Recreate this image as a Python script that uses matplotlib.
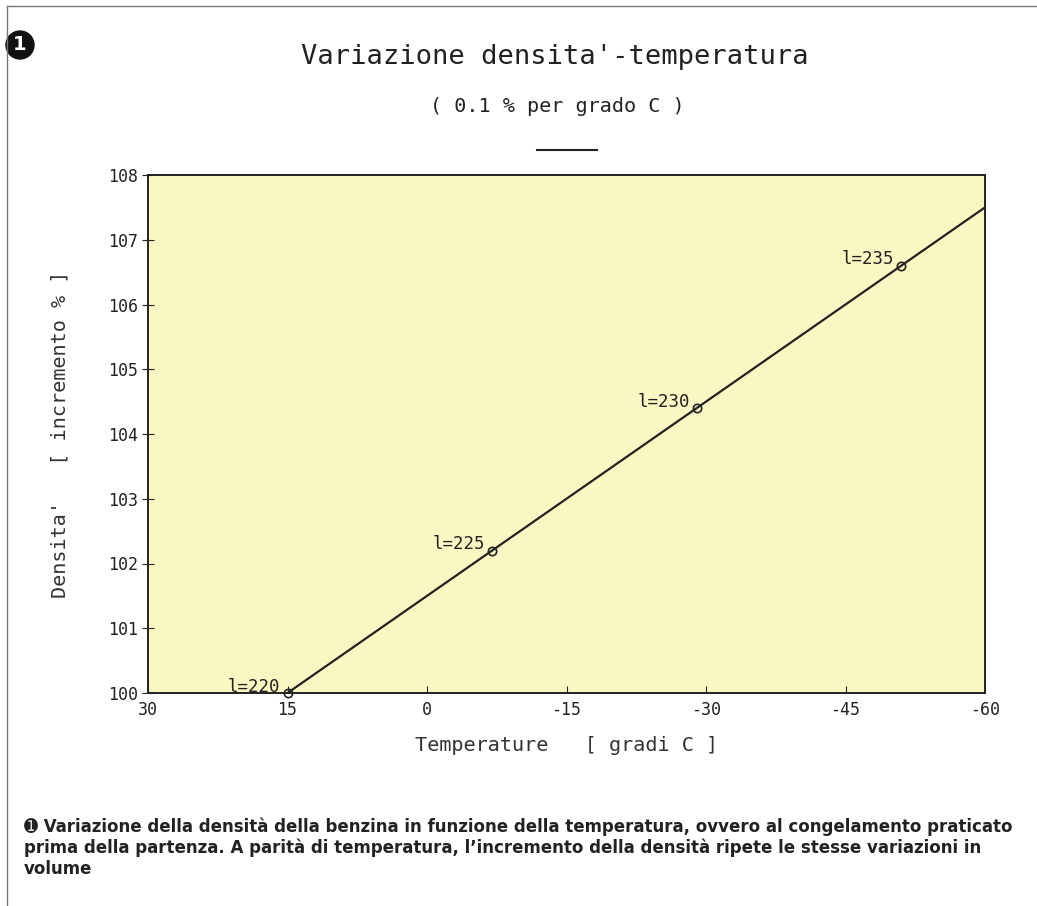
from matplotlib import pyplot as plt
from matplotlib.lines import Line2D
from matplotlib.patches import Ellipse

# dati
temp = [15, -7, -29, -51]
dens = [100.0, 102.2, 104.4, 106.6]
labels = ['l=220', 'l=225', 'l=230', 'l=235']
line_t = [15, -60]
line_d = [100.0, 107.5]
x_ticks = [30, 15, 0, -15, -30, -45, -60]
y_ticks = [100, 101, 102, 103, 104, 105, 106, 107, 108]

mono = 'DejaVu Sans Mono'
ink = '#222222'
caption = ('\u278a Variazione della densità della benzina in funzione della temperatura, ovvero al congelamento praticato\n'
           'prima della partenza. A parità di temperatura, l\u2019incremento della densità ripete le stesse variazioni in\n'
           'volume')

fig = plt.figure(figsize=(10.37, 9.06), dpi=100)
ax = fig.add_axes([148 / 1037, 1 - 693 / 906, (985 - 148) / 1037, (693 - 175) / 906])
ax.set_facecolor('#fbf7c2')

ax.plot(line_t, line_d, color=ink, lw=1.6)
ax.plot(temp, dens, 'o', mfc='none', mec=ink, ms=6, mew=1.2, clip_on=False)
for t, d, lab in zip(temp, dens, labels):
    ax.text(t + 0.75, d + 0.02, lab, ha='right', va='baseline', family=mono,
            fontsize=12.5, color=ink)

ax.set_xlim(30, -60)
ax.set_ylim(100, 108)
ax.set_xticks(x_ticks)
ax.set_yticks(y_ticks)
ax.set_xticklabels([str(v) for v in x_ticks], family=mono, fontsize=12)
ax.set_yticklabels([str(v) for v in y_ticks], family=mono, fontsize=12)
ax.tick_params(axis='x', direction='in', length=5, pad=6, colors=ink)
ax.tick_params(axis='y', direction='inout', length=8, pad=3, colors=ink)
for s in ax.spines.values():
    s.set_color(ink)
    s.set_linewidth(1.4)

ax.set_xlabel('Temperature   [ gradi C ]', family=mono, fontsize=14.5,
              color='#333333', labelpad=12)
ax.set_ylabel("Densita'   [ incremento % ]", family=mono, fontsize=14.5,
              color='#333333', labelpad=28)

fig.text(0.535, 1 - 57 / 906, "Variazione densita'-temperatura", family=mono,
         fontsize=19.5, ha='center', va='center', color=ink)
fig.text(0.537, 1 - 106 / 906, "( 0.1 % per grado C )", family=mono,
         fontsize=14.5, ha='center', va='center', color=ink)
fig.add_artist(Line2D([537 / 1037, 597 / 1037], [1 - 150 / 906] * 2,
                      color=ink, lw=1.5))

# numero della figura
fig.add_artist(Ellipse((20 / 1037, 1 - 45 / 906), 28 / 1037, 28 / 906,
                       transform=fig.transFigure, color='#111111'))
fig.text(20 / 1037, 1 - 45 / 906, '1', color='white', fontsize=14, weight='bold',
         ha='center', va='center')

# bordo pagina
fig.add_artist(Line2D([7 / 1037, 1], [1 - 6 / 906] * 2, color='#777777', lw=1))
fig.add_artist(Line2D([7 / 1037] * 2, [0, 1 - 6 / 906], color='#777777', lw=1))

fig.text(24 / 1037, 1 - 817 / 906, caption, family='DejaVu Sans', stretch='condensed',
         weight='bold', fontsize=13.3, ha='left', va='top', color=ink,
         linespacing=1.2)

fig.savefig('out.png', dpi=100)
